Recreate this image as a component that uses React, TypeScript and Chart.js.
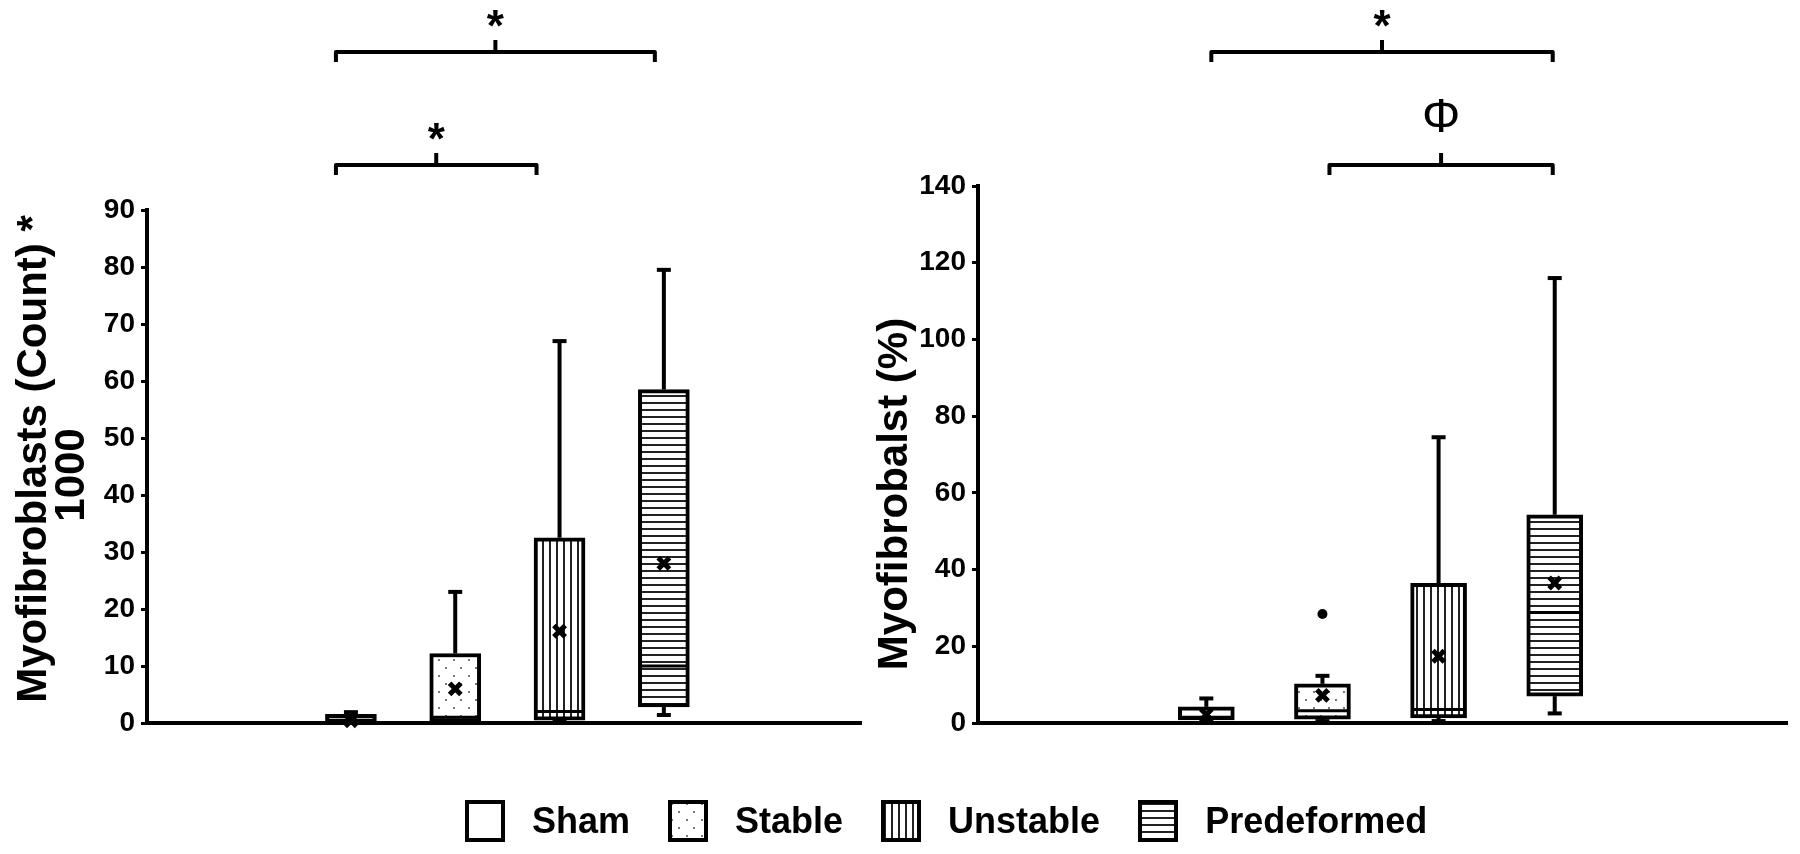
import React, { useEffect, useRef } from 'react';
import { Chart, registerables } from 'chart.js';

Chart.register(...registerables);

// ---------- data ----------
const groups = ['Sham', 'Stable', 'Unstable', 'Predeformed'];
const patternKinds = ['none', 'dots', 'vlines', 'hlines'];

// Left panel: Myofibroblasts (Count) * 1000
const countMin = [0, 0, 0.2, 1.4];
const countQ1 = [0.1, 0.2, 0.5, 2.8];
const countMedian = [0.5, 1.0, 2.0, 10.0];
const countQ3 = [1.5, 12.2, 32.5, 58.5];
const countMax = [1.9, 23, 67, 79.5];
const countMean = [0.4, 6.0, 16.1, 28.0];
const countOutliers: number[][] = [[], [], [], []];

// Right panel: Myofibrobalst (%)
const pctMin = [0.3, 0.5, 0.5, 2.5];
const pctQ1 = [0.8, 1.0, 1.3, 7.0];
const pctMedian = [1.5, 3.2, 3.5, 28.8];
const pctQ3 = [4.2, 10.2, 36.4, 54.3];
const pctMax = [6.4, 12.3, 74.5, 116];
const pctMean = [2.2, 7.2, 17.4, 36.5];
const pctOutliers: number[][] = [[], [28.4], [], []];

const countTicks = { min: 0, max: 90, step: 10 };
const pctTicks = { min: 0, max: 140, step: 20 };

const countTitle = ['Myofibroblasts (Count) *', '1000'];
const pctTitle = ['Myofibrobalst (%)'];

const countBrackets = [
  { from: 'Sham', to: 'Predeformed', label: '*', tier: 0 },
  { from: 'Sham', to: 'Unstable', label: '*', tier: 1 },
];
const pctBrackets = [
  { from: 'Sham', to: 'Predeformed', label: '*', tier: 0 },
  { from: 'Stable', to: 'Predeformed', label: 'Φ', tier: 1 },
];

// ---------- layout / style ----------
const FONT = "'Liberation Sans', Arial, Helvetica, sans-serif";
const LEAD = 2; // empty slots before the first group on the x axis
const tierY = [52, 165];

function makePattern(kind: string): CanvasPattern | string {
  if (kind === 'none') return '#ffffff';
  const c = document.createElement('canvas');
  const g = c.getContext('2d')!;
  if (kind === 'dots') {
    c.width = 15; c.height = 16;
    g.fillStyle = '#fff'; g.fillRect(0, 0, 15, 16);
    g.fillStyle = '#777';
    g.fillRect(3, 3, 2, 2);
    g.fillRect(10, 11, 2, 2);
  } else if (kind === 'vlines') {
    c.width = 7; c.height = 7;
    g.fillStyle = '#fff'; g.fillRect(0, 0, 7, 7);
    g.fillStyle = '#222';
    g.fillRect(3, 0, 2, 7);
  } else if (kind === 'hlines') {
    c.width = 7; c.height = 7;
    g.fillStyle = '#fff'; g.fillRect(0, 0, 7, 7);
    g.fillStyle = '#222';
    g.fillRect(0, 3, 7, 2);
  }
  const ctx2 = document.createElement('canvas').getContext('2d')!;
  return ctx2.createPattern(c, 'repeat')!;
}

type Bracket = { from: string; to: string; label: string; tier: number };

type PanelCfg = {
  left: number;
  width: number;
  axisWidth: number;
  padRight: number;
  padTop: number;
  xRange: [number, number];
  boxWidth: number;
  bracketNudge: [number, number][];
  title: string[];
  titleX: number[];
  titleY: number[];
  ticks: { min: number; max: number; step: number };
  min: number[]; q1: number[]; median: number[]; q3: number[]; max: number[];
  mean: number[]; outliers: number[][];
  brackets: Bracket[];
};

function buildChart(canvas: HTMLCanvasElement, p: PanelCfg) {
  const patterns = patternKinds.map(makePattern);
  const xOf = (i: number) => i + LEAD;

  const boxPlugin = {
    id: 'boxExtras',
    afterDatasetDraw(chart: any, args: any) {
      if (args.index !== 0) return;
      const { ctx } = chart;
      const x = chart.scales.x;
      const y = chart.scales.y;
      const half = p.boxWidth / 2;
      const cap = 7;
      ctx.save();
      ctx.strokeStyle = '#000';
      ctx.lineCap = 'butt';
      groups.forEach((_, i) => {
        const cx = x.getPixelForValue(xOf(i));
        const yq1 = y.getPixelForValue(p.q1[i]);
        const yq3 = y.getPixelForValue(p.q3[i]);
        const ymin = y.getPixelForValue(p.min[i]);
        const ymax = y.getPixelForValue(p.max[i]);
        const ymed = y.getPixelForValue(p.median[i]);
        ctx.lineWidth = 4;
        if (ymax < yq3 - 1) {
          ctx.beginPath(); ctx.moveTo(cx, yq3); ctx.lineTo(cx, ymax); ctx.stroke();
        }
        ctx.beginPath(); ctx.moveTo(cx - cap, ymax); ctx.lineTo(cx + cap, ymax); ctx.stroke();
        if (ymin > yq1 + 1) {
          ctx.beginPath(); ctx.moveTo(cx, yq1); ctx.lineTo(cx, ymin); ctx.stroke();
          ctx.beginPath(); ctx.moveTo(cx - cap, ymin); ctx.lineTo(cx + cap, ymin); ctx.stroke();
        }
        ctx.lineWidth = 3;
        ctx.beginPath(); ctx.moveTo(cx - half + 2, ymed); ctx.lineTo(cx + half - 2, ymed); ctx.stroke();
      });
      ctx.restore();
    },
  };

  const annotPlugin = {
    id: 'annotations',
    afterDraw(chart: any) {
      const { ctx } = chart;
      const x = chart.scales.x;
      ctx.save();
      ctx.strokeStyle = '#000';
      ctx.fillStyle = '#000';
      ctx.lineWidth = 4;
      ctx.lineJoin = 'round';
      p.brackets.forEach((b, k) => {
        const [n1, n2] = p.bracketNudge[k];
        const x1 = x.getPixelForValue(xOf(groups.indexOf(b.from))) + n1;
        const x2 = x.getPixelForValue(xOf(groups.indexOf(b.to))) + n2;
        const yy = tierY[b.tier];
        const xm = (x1 + x2) / 2;
        ctx.beginPath();
        ctx.moveTo(x1, yy + 10); ctx.lineTo(x1, yy); ctx.lineTo(x2, yy); ctx.lineTo(x2, yy + 10);
        ctx.stroke();
        ctx.beginPath(); ctx.moveTo(xm, yy); ctx.lineTo(xm, yy - 12); ctx.stroke();
        ctx.textAlign = 'center';
        ctx.textBaseline = 'alphabetic';
        if (b.label === '*') {
          ctx.font = `bold 44px ${FONT}`;
          ctx.fillText(b.label, xm, yy - 11);
        } else {
          ctx.font = `48px ${FONT}`;
          ctx.fillText(b.label, xm, yy - 33);
        }
      });
      // rotated axis title
      ctx.font = `bold 42px ${FONT}`;
      ctx.textAlign = 'center';
      ctx.textBaseline = 'middle';
      p.title.forEach((line, k) => {
        ctx.save();
        ctx.translate(p.titleX[k], p.titleY[k]);
        ctx.rotate(-Math.PI / 2);
        ctx.fillText(line, 0, 0);
        ctx.restore();
      });
      ctx.restore();
    },
  };

  const pts = (vals: (number | null)[]) =>
    vals.map((v, i) => (v === null ? null : { x: xOf(i), y: v })).filter((d) => d !== null);

  return new Chart(canvas, {
    type: 'bar',
    data: {
      datasets: [
        {
          type: 'bar',
          data: p.q1.map((v, i) => ({ x: xOf(i), y: [v, p.q3[i]] })) as any,
          backgroundColor: patterns as any,
          borderColor: '#000',
          borderWidth: 4,
          borderSkipped: false,
          barThickness: p.boxWidth,
          order: 3,
        },
        {
          type: 'line',
          data: pts(p.mean) as any,
          showLine: false,
          pointStyle: 'crossRot',
          pointRadius: 8,
          pointBorderWidth: 5,
          pointBorderColor: '#000',
          pointBackgroundColor: '#000',
          clip: false as any,
          order: 1,
        },
        {
          type: 'line',
          data: pts(p.outliers.map((o) => (o.length ? o[0] : null))) as any,
          showLine: false,
          pointStyle: 'circle',
          pointRadius: 5,
          pointBorderWidth: 0,
          pointBackgroundColor: '#000',
          clip: false as any,
          order: 2,
        },
      ],
    },
    options: {
      responsive: false,
      animation: false,
      events: [],
      layout: { padding: { left: 0, right: p.padRight, top: p.padTop, bottom: 854 - 723 } },
      plugins: { legend: { display: false }, tooltip: { enabled: false } },
      scales: {
        x: {
          type: 'linear',
          min: p.xRange[0],
          max: p.xRange[1],
          offset: false,
          grid: { display: false },
          ticks: { display: false },
          border: { display: true, color: '#000', width: 4 },
          afterFit: (s: any) => { s.height = 0; },
        },
        y: {
          type: 'linear',
          min: p.ticks.min,
          max: p.ticks.max,
          ticks: {
            stepSize: p.ticks.step,
            color: '#000',
            padding: 6,
            font: { family: FONT, size: 28, weight: 'bold' },
          },
          grid: { drawOnChartArea: false, drawTicks: true, tickLength: 6, color: '#000', lineWidth: 3 },
          border: { display: true, color: '#000', width: 4 },
          title: { display: false },
          afterFit: (s: any) => { s.width = p.axisWidth; },
        },
      },
    },
    plugins: [boxPlugin, annotPlugin],
  } as any);
}

const leftPanel: PanelCfg = {
  left: 0, width: 900, axisWidth: 147, padRight: 39, padTop: 210, xRange: [0.045, 6.89], boxWidth: 51,
  bracketNudge: [[-15, -9], [-15, -23]],
  title: countTitle, titleX: [34, 72], titleY: [459, 475], ticks: countTicks,
  min: countMin, q1: countQ1, median: countMedian, q3: countQ3, max: countMax, mean: countMean,
  outliers: countOutliers, brackets: countBrackets,
};

const rightPanel: PanelCfg = {
  left: 860, width: 940, axisWidth: 118, padRight: 0, padTop: 186, xRange: [0.034, 7.0], boxWidth: 56,
  bracketNudge: [[5, -2], [7, -2]],
  title: pctTitle, titleX: [35], titleY: [494], ticks: pctTicks,
  min: pctMin, q1: pctQ1, median: pctMedian, q3: pctQ3, max: pctMax, mean: pctMean,
  outliers: pctOutliers, brackets: pctBrackets,
};

function Panel({ cfg }: { cfg: PanelCfg }) {
  const ref = useRef<HTMLCanvasElement>(null);
  useEffect(() => {
    const chart = buildChart(ref.current!, cfg);
    return () => chart.destroy();
  }, [cfg]);
  return (
    <canvas
      ref={ref}
      width={cfg.width}
      height={854}
      style={{ position: 'absolute', left: cfg.left, top: 0, width: cfg.width, height: 854 }}
    />
  );
}

function Swatch({ kind }: { kind: string }) {
  const ref = useRef<HTMLCanvasElement>(null);
  useEffect(() => {
    const c = ref.current!;
    const g = c.getContext('2d')!;
    g.clearRect(0, 0, c.width, c.height);
    g.fillStyle = makePattern(kind) as any;
    g.fillRect(2, 2, c.width - 4, c.height - 4);
    g.strokeStyle = '#000';
    g.lineWidth = 4;
    g.strokeRect(2, 2, c.width - 4, c.height - 4);
  }, [kind]);
  return <canvas ref={ref} width={40} height={42} style={{ width: 40, height: 42, display: 'block' }} />;
}

function Legend() {
  return (
    <div
      style={{
        position: 'absolute', left: 465, top: 800, display: 'flex', alignItems: 'center',
        fontFamily: FONT, fontWeight: 'bold', fontSize: 36, color: '#000', lineHeight: '42px',
        whiteSpace: 'nowrap',
      }}
    >
      {groups.map((g, i) => (
        <div key={g} style={{ display: 'flex', alignItems: 'center', marginRight: i < groups.length - 1 ? 38 : 0 }}>
          <Swatch kind={patternKinds[i]} />
          <span style={{ marginLeft: 27 }}>{g}</span>
        </div>
      ))}
    </div>
  );
}

export default function App() {
  return (
    <div style={{ position: 'absolute', left: 0, top: 0, width: 1800, height: 854, background: '#fff', overflow: 'hidden' }}>
      <Panel cfg={leftPanel} />
      <Panel cfg={rightPanel} />
      <Legend />
    </div>
  );
}
